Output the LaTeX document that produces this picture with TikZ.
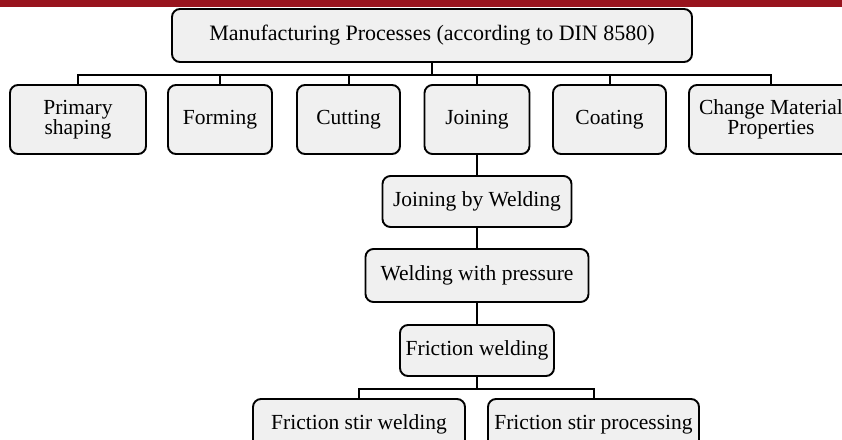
\documentclass[tikz,border=0pt]{standalone}
\usepackage{fontspec}
\setmainfont{Liberation Serif}
\definecolor{topbar}{RGB}{152,20,30}
\definecolor{boxfill}{RGB}{240,240,240}
\tikzset{
  x=1pt,y=1pt,
  procbox/.style={draw=black, line width=1.9pt, fill=boxfill, rounded corners=8pt,
    inner sep=0pt, align=center, font=\fontsize{21.5}{20.5}\selectfont},
  link/.style={draw=black, line width=2pt}
}
\begin{document}
\begin{tikzpicture}
\useasboundingbox (0,0) rectangle (842,-439);
\begin{scope}
\clip (0,0) rectangle (842,-439);
\fill[topbar] (0,0) rectangle (842,-7);
\node[procbox, minimum width=520pt, minimum height=53pt, font=\fontsize{22}{20}\selectfont] (top) at (432,-35.5) {Manufacturing Processes (according to DIN 8580)};
\node[procbox, minimum width=136pt, minimum height=69pt] (primary) at (78,-119.5) {\raisebox{-2pt}{\parbox{130pt}{\centering Primary\\shaping}}};
\node[procbox, minimum width=104pt, minimum height=69pt] (forming) at (220,-119.5) {Forming};
\node[procbox, minimum width=103pt, minimum height=69pt] (cutting) at (348.5,-119.5) {Cutting};
\node[procbox, minimum width=105pt, minimum height=69pt] (joining) at (477,-119.5) {Joining};
\node[procbox, minimum width=113pt, minimum height=69pt] (coating) at (609.5,-119.5) {Coating};
\node[procbox, minimum width=164pt, minimum height=69pt] (change) at (771,-119.5) {\raisebox{-2pt}{\parbox{160pt}{\centering Change Material\\Properties}}};
\node[procbox, minimum width=189pt, minimum height=51pt] (jbw) at (477,-201.5) {Joining by Welding};
\node[procbox, minimum width=223pt, minimum height=53pt] (wwp) at (477,-275.5) {Welding with pressure};
\node[procbox, minimum width=154pt, minimum height=51pt] (fw) at (477,-350.5) {Friction welding};
\node[procbox, minimum width=212pt, minimum height=51pt] (fsw) at (359,-424.5) {Friction stir welding};
\node[procbox, minimum width=211pt, minimum height=51pt] (fsp) at (593.5,-424.5) {Friction stir processing};
\foreach \c in {primary,forming,cutting,joining,coating,change}
  \draw[link] (top.south) -- ++(0,-12) -| (\c.north);
\draw[link] (joining.south) -- (jbw.north);
\draw[link] (jbw.south) -- (wwp.north);
\draw[link] (wwp.south) -- (fw.north);
\draw[link] (fw.south) -- ++(0,-12) -| (fsw.north);
\draw[link] (fw.south) -- ++(0,-12) -| (fsp.north);
\end{scope}
\end{tikzpicture}
\end{document}
